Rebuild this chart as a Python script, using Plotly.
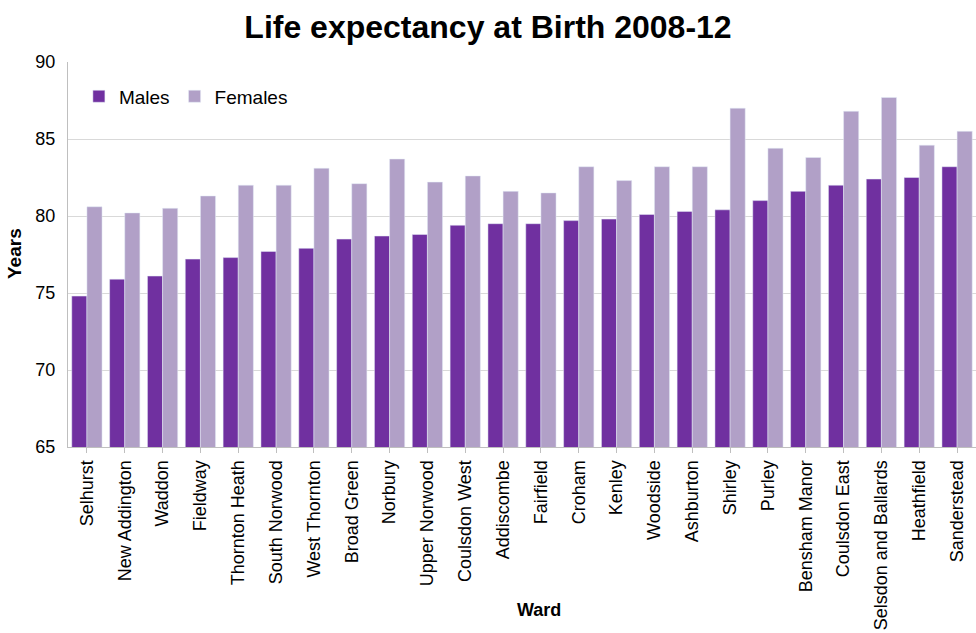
import plotly.graph_objects as go

wards = ["Selhurst", "New Addington", "Waddon", "Fieldway", "Thornton Heath", "South Norwood",
         "West Thornton", "Broad Green", "Norbury", "Upper Norwood", "Coulsdon West", "Addiscombe",
         "Fairfield", "Croham", "Kenley", "Woodside", "Ashburton", "Shirley", "Purley",
         "Bensham Manor", "Coulsdon East", "Selsdon and Ballards", "Heathfield", "Sanderstead"]
males = [74.8, 75.9, 76.1, 77.2, 77.3, 77.7, 77.9, 78.5, 78.7, 78.8, 79.4, 79.5,
         79.5, 79.7, 79.8, 80.1, 80.3, 80.4, 81.0, 81.6, 82.0, 82.4, 82.5, 83.2]
females = [80.6, 80.2, 80.5, 81.3, 82.0, 82.0, 83.1, 82.1, 83.7, 82.2, 82.6, 81.6,
           81.5, 83.2, 82.3, 83.2, 83.2, 87.0, 84.4, 83.8, 86.8, 87.7, 84.6, 85.5]

FONT = "Liberation Sans, Arial, sans-serif"

fig = go.Figure()
fig.add_trace(go.Bar(x=wards, y=males, name="Males", marker_color="#7030A0"))
fig.add_trace(go.Bar(x=wards, y=females, name="Females", marker_color="#B1A0C7"))

L, R, T, B, W, H = 68, 0, 62, 186, 976, 633
pw, ph = W - L - R, H - T - B

fig.update_layout(
    width=W, height=H,
    margin=dict(l=L, r=R, t=T, b=B, autoexpand=False),
    paper_bgcolor="white", plot_bgcolor="white",
    barmode="group", bargap=0.2, bargroupgap=0,
    font=dict(family=FONT, size=18, color="#000000"),
    title=dict(text="<b>Life expectancy at Birth 2008-12</b>", x=0.5, xanchor="center",
               y=0.957, yanchor="middle", font=dict(size=32, color="#000000")),
    legend=dict(orientation="h", x=0.012, y=0.96, xanchor="left", yanchor="top",
                bgcolor="rgba(0,0,0,0)", font=dict(size=19), itemwidth=30,
                tracegroupgap=0),
    xaxis=dict(tickangle=-90, showline=True, linecolor="#BFBFBF", ticks="outside",
               ticklen=5, tickcolor="#BFBFBF", tickfont=dict(size=18), automargin=False),
    yaxis=dict(range=[65, 90], dtick=5, showgrid=True, gridcolor="#D9D9D9",
               showline=True, linecolor="#BFBFBF", tickfont=dict(size=18),
               ticks="", zeroline=False, ticklabelstandoff=8, automargin=False),
    annotations=[
        dict(text="<b>Years</b>", x=(14 - L) / pw, y=(H - B - 254) / ph,
             xref="paper", yref="paper", xanchor="center", yanchor="middle",
             showarrow=False, textangle=-90, font=dict(size=19)),
        dict(text="<b>Ward</b>", x=(539 - L) / pw, y=(H - B - 610) / ph,
             xref="paper", yref="paper", xanchor="center", yanchor="middle",
             showarrow=False, font=dict(size=18)),
    ],
)

fig.write_html("out.html")
